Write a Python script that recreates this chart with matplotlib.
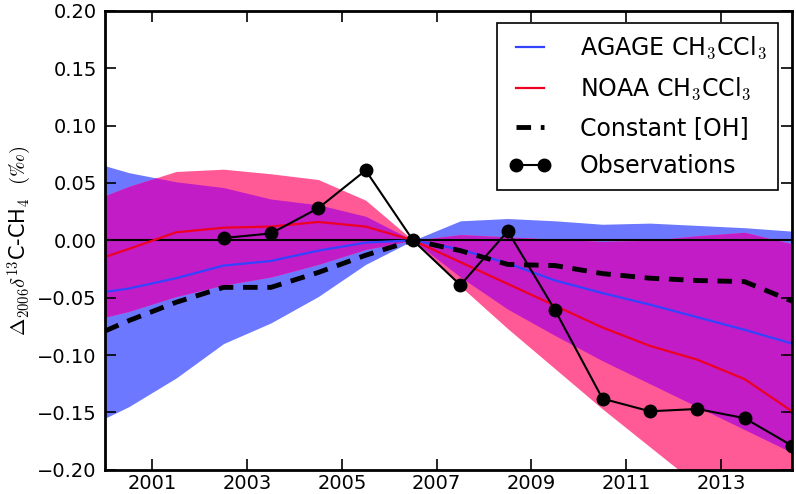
import numpy as np
import matplotlib
matplotlib.use("Agg")
import matplotlib.pyplot as plt

plt.rcParams["mathtext.fontset"] = "cm"
plt.rcParams["font.family"] = ["DejaVu Sans"]

# model years (first value is the left edge of the plot)
yrs = [2000.0, 2000.5, 2001.5, 2002.5, 2003.5, 2004.5, 2005.5, 2006.5,
       2007.5, 2008.5, 2009.5, 2010.5, 2011.5, 2012.5, 2013.5, 2014.5]

agage_mid = [-0.045, -0.042, -0.033, -0.022, -0.018, -0.009, -0.002, 0.0,
             -0.008, -0.020, -0.035, -0.046, -0.056, -0.067, -0.078, -0.090]
agage_hi = [0.065, 0.059, 0.051, 0.046, 0.036, 0.031, 0.021, 0.0,
            0.017, 0.019, 0.017, 0.014, 0.015, 0.013, 0.011, 0.008]
agage_lo = [-0.155, -0.145, -0.120, -0.090, -0.072, -0.049, -0.021, 0.0,
            -0.032, -0.060, -0.083, -0.105, -0.125, -0.145, -0.165, -0.185]

noaa_mid = [-0.0145, -0.0075, 0.007, 0.011, 0.012, 0.016, 0.012, 0.0,
            -0.019, -0.038, -0.057, -0.076, -0.092, -0.104, -0.121, -0.149]
noaa_hi = [0.039, 0.047, 0.060, 0.062, 0.058, 0.053, 0.035, 0.0,
           0.005, 0.003, 0.001, -0.001, 0.0, 0.004, 0.007, -0.003]
noaa_lo = [-0.067, -0.062, -0.049, -0.039, -0.032, -0.021, -0.008, 0.0,
           -0.040, -0.077, -0.112, -0.147, -0.180, -0.213, -0.245, -0.275]

const_oh = [-0.079, -0.070, -0.054, -0.041, -0.041, -0.028, -0.013, 0.0,
            -0.009, -0.021, -0.022, -0.029, -0.033, -0.035, -0.036, -0.053]

obs_yrs = [2002.5, 2003.5, 2004.5, 2005.5, 2006.5, 2007.5, 2008.5,
           2009.5, 2010.5, 2011.5, 2012.5, 2013.5, 2014.5]
obs = [0.002, 0.006, 0.028, 0.061, 0.0, -0.039, 0.008,
       -0.061, -0.138, -0.149, -0.147, -0.155, -0.179]

ytick_vals = [-0.20, -0.15, -0.10, -0.05, 0.00, 0.05, 0.10, 0.15, 0.20]
ytick_labels = ["\u22120.20", "\u22120.15", "\u22120.10", "\u22120.05", "0.00",
                "0.05", "0.10", "0.15", "0.20"]
xtick_vals = [2001, 2003, 2005, 2007, 2009, 2011, 2013]

fig = plt.figure(figsize=(7.96, 4.94), dpi=100)
ax = fig.add_axes([0.132, 0.049, 0.863, 0.929])

ax.fill_between(yrs, agage_lo, agage_hi, color="#6b78ff", lw=0)
ax.fill_between(yrs, noaa_lo, noaa_hi, color="#ff5a96", lw=0)

# overlap of the two ranges, on a fine grid
xf = np.linspace(yrs[0], yrs[-1], 600)
lo = np.maximum(np.interp(xf, yrs, agage_lo), np.interp(xf, yrs, noaa_lo))
hi = np.minimum(np.interp(xf, yrs, agage_hi), np.interp(xf, yrs, noaa_hi))
ax.fill_between(xf, lo, hi, where=hi > lo, color="#c11cc6", lw=0, interpolate=True)

ax.axhline(0, color="k", lw=1.5)
ax.plot(yrs, agage_mid, color="#3344ff", lw=1.6, label="AGAGE CH$_3$CCl$_3$")
ax.plot(yrs, noaa_mid, color="#ee0022", lw=1.6, label="NOAA CH$_3$CCl$_3$")
ax.plot(yrs, const_oh, "k--", lw=3.5, dashes=(3, 2), label="Constant [OH]")
ax.plot(obs_yrs, obs, "k-o", lw=1.5, ms=9, label="Observations")

ax.set_xlim(2000, 2014.5)
ax.set_ylim(-0.2, 0.2)
ax.set_xticks(xtick_vals)
ax.set_yticks(ytick_vals)
ax.set_yticklabels(ytick_labels)
ax.tick_params(direction="in", length=8, width=1.2, top=True, right=True,
               labelsize=14)
ax.tick_params(axis="x", pad=3)
ax.tick_params(axis="y", pad=6)
for s in ax.spines.values():
    s.set_linewidth(2)

ax.set_ylabel(r"$\Delta_{2006}\delta^{13}$C-CH$_4$  $(\perthousand)$", fontsize=15, labelpad=2)

leg = ax.legend(loc="upper right", numpoints=2, fontsize=17, handlelength=1.8,
                fancybox=False, framealpha=1, borderpad=0.5, labelspacing=0.6,
                handletextpad=1.2, borderaxespad=0, bbox_to_anchor=(0.98, 0.973))
leg.get_frame().set_edgecolor("k")
leg.get_frame().set_linewidth(1.2)

fig.savefig("out.png", dpi=100)
